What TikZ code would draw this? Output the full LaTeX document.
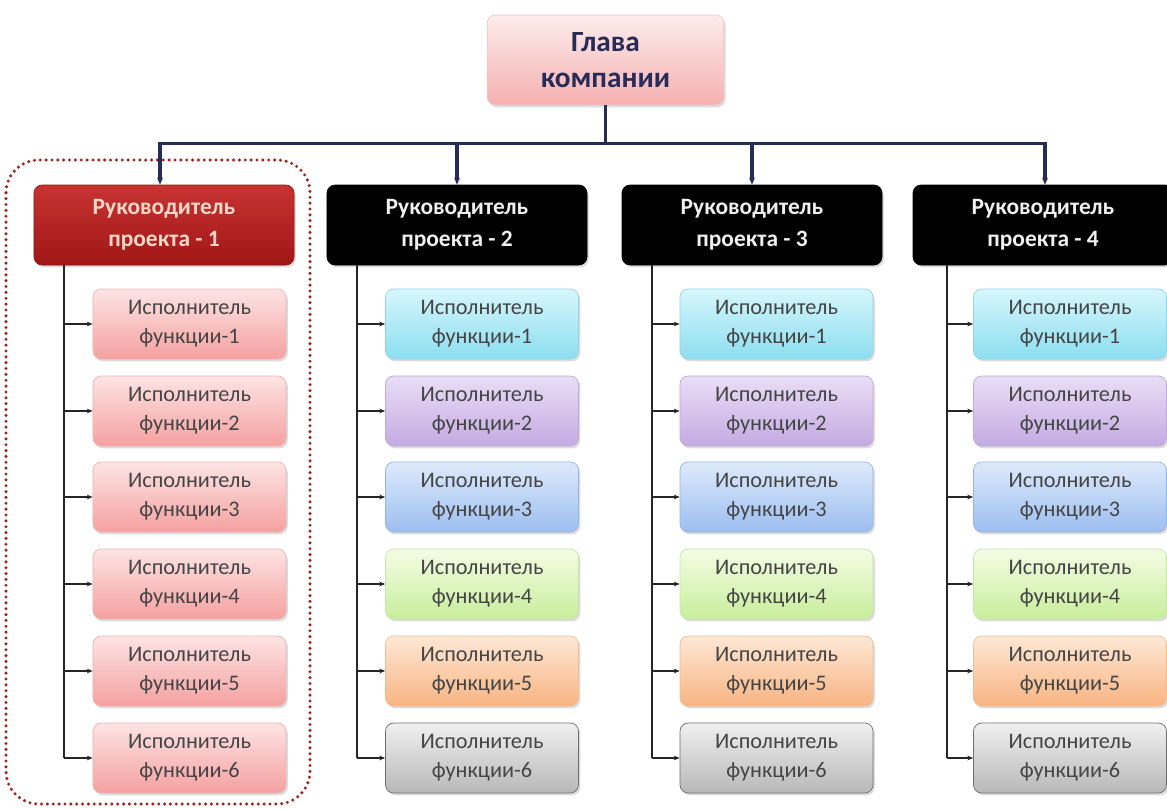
\documentclass[tikz,border=0pt]{standalone}
\usepackage{fontspec}
\setmainfont{Carlito}
\usetikzlibrary{shadows,arrows.meta,calc}

\definecolor{navy}{HTML}{262B58}
\definecolor{txtgray}{HTML}{454545}
\definecolor{dotred}{HTML}{9E2323}

\tikzset{
  box/.style={rounded corners=7pt, align=center, inner sep=0pt, line width=0.6pt,
    drop shadow={opacity=0.28, shadow xshift=1.5pt, shadow yshift=-2pt}},
  child/.style={box, minimum width=5.79cm, minimum height=2.1cm,
    font=\fontsize{19}{25}\selectfont, text=txtgray},
  head/.style={box, minimum width=7.8cm, minimum height=2.4cm,
    font=\bfseries\fontsize{20}{27}\selectfont},
  chief/.style={box, minimum width=7.1cm, minimum height=2.7cm,
    font=\bfseries\fontsize{25}{31}\selectfont, text=navy,
    top color={rgb,255:red,253;green,236;blue,236}, bottom color={rgb,255:red,246;green,176;blue,176},
    draw={rgb,255:red,240;green,200;blue,200}},
  blackhead/.style={head, fill=black, draw=black, text={rgb,255:red,240;green,240;blue,240}},
  redhead/.style={head, top color={rgb,255:red,198;green,52;blue,50},
    bottom color={rgb,255:red,160;green,22;blue,22}, draw={rgb,255:red,150;green,20;blue,20},
    text={rgb,255:red,250;green,215;blue,200}},
  fpink/.style={top color={rgb,255:red,253;green,228;blue,228}, bottom color={rgb,255:red,245;green,160;blue,160},
    draw={rgb,255:red,236;green,180;blue,180}},
  fcyan/.style={top color={rgb,255:red,214;green,247;blue,252}, bottom color={rgb,255:red,140;green,222;blue,240},
    draw={rgb,255:red,150;green,210;blue,228}},
  flilac/.style={top color={rgb,255:red,234;green,222;blue,246}, bottom color={rgb,255:red,196;green,170;blue,226},
    draw={rgb,255:red,190;green,170;blue,215}},
  fblue/.style={top color={rgb,255:red,222;green,234;blue,252}, bottom color={rgb,255:red,156;green,190;blue,240},
    draw={rgb,255:red,150;green,180;blue,225}},
  fgreen/.style={top color={rgb,255:red,244;green,252;blue,228}, bottom color={rgb,255:red,200;green,238;blue,156},
    draw={rgb,255:red,200;green,228;blue,170}},
  forange/.style={top color={rgb,255:red,254;green,232;blue,214}, bottom color={rgb,255:red,248;green,180;blue,130},
    draw={rgb,255:red,240;green,190;blue,150}},
  fgrey/.style={top color={rgb,255:red,240;green,240;blue,240}, bottom color={rgb,255:red,184;green,184;blue,184},
    draw={rgb,255:red,110;green,110;blue,110}},
  busline/.style={draw=navy, line width=2.6pt},
  busarrow/.style={busline, -{Stealth[length=6pt,width=5pt]}},
  trunk/.style={draw=black!85, line width=1.2pt},
  branch/.style={trunk, -{Stealth[length=5pt,width=4pt]}},
  group/.style={draw=dotred, line width=2.9pt, dash pattern=on 0pt off 5pt,
    line cap=round, rounded corners=28pt},
}

\begin{document}
\begin{tikzpicture}[x=0.03cm, y=-0.03cm]
  \useasboundingbox (0,0) rectangle (1167,809);

  % outline grouping the first project
  \draw[group] (6,160) rectangle (310,804);

  % head of the company
  \node[chief] (top) at (605.5,60) {Глава\\компании};

  % project leaders
  \node[redhead]   (h1) at (164,225) {Руководитель\\проекта - 1};
  \node[blackhead] (h2) at (457,225) {Руководитель\\проекта - 2};
  \node[blackhead] (h3) at (752,225) {Руководитель\\проекта - 3};
  \node[blackhead] (h4) at (1043,225) {Руководитель\\проекта - 4};

  % distribution bus
  \coordinate (bus) at (605.5,143.5);
  \coordinate (busL) at (160,143.5);
  \coordinate (busR) at (1045,143.5);
  \draw[busline] (top.south) -- (bus);
  \draw[busline, line cap=rect] (busL) -- (busR);
  \draw[busarrow] (busL) -- (busL |- h1.north);
  \draw[busarrow] (h2.north |- bus) -- (h2.north);
  \draw[busarrow] (h3.north |- bus) -- (h3.north);
  \draw[busarrow] (busR) -- (busR |- h4.north);

  % executors
  \foreach \c/\tx in {1/64, 2/357, 3/652, 4/947}{
    \coordinate (t\c) at (\tx,265);
  }
  \foreach \r/\y in {1/324,2/411,3/497,4/584,5/671,6/758}{
    \node[child,fpink] (c1\r) at (189.5,\y) {Исполнитель\\функции-\r};
  }
  \foreach \c/\x in {2/482,3/776.5,4/1070}{
    \node[child,fcyan]   (c\c1) at (\x,324) {Исполнитель\\функции-1};
    \node[child,flilac]  (c\c2) at (\x,411) {Исполнитель\\функции-2};
    \node[child,fblue]   (c\c3) at (\x,497) {Исполнитель\\функции-3};
    \node[child,fgreen]  (c\c4) at (\x,584) {Исполнитель\\функции-4};
    \node[child,forange] (c\c5) at (\x,671) {Исполнитель\\функции-5};
    \node[child,fgrey]   (c\c6) at (\x,758) {Исполнитель\\функции-6};
  }

  % trunks and branches
  \foreach \c in {1,2,3,4}{
    \draw[trunk] (t\c) -- (t\c |- c\c6.west);
    \foreach \r in {1,...,6}{
      \draw[branch] (t\c |- c\c\r.west) -- (c\c\r.west);
    }
  }
\end{tikzpicture}
\end{document}
